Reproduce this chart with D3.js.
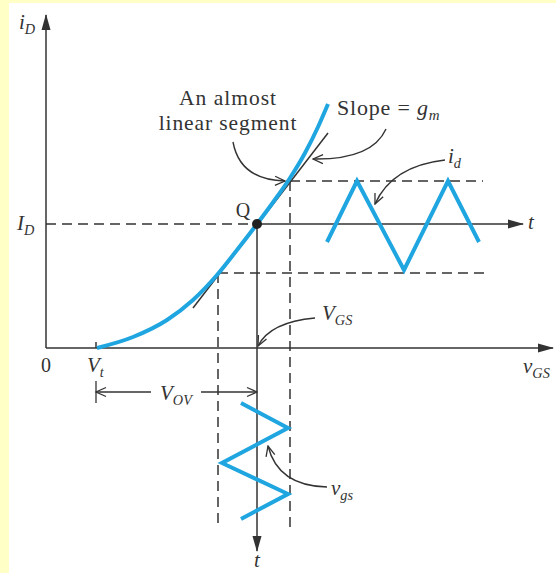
<!DOCTYPE html>
<html>
<head>
<meta charset="utf-8">
<script src="https://cdn.jsdelivr.net/npm/d3@7"></script>
<style>
  body { margin: 0; background: #fff; }
</style>
</head>
<body>
<div id="chart"></div>
<script>
// Transfer curve iD(vGS)
const curveV = [1.02, 1.74, 2.42, 2.94, 3.42, 3.82, 4.22, 4.56, 4.88, 5.18, 5.44, 5.64]
const curveI = [0.00, 0.22, 0.56, 0.96, 1.46, 1.96, 2.48, 2.94, 3.40, 3.90, 4.42, 4.88]

// Tangent at Q (slope = gm)
const tangentV = [2.94, 5.64]
const tangentI = [0.80, 4.30]

// Bias point and signal swing
const Vt = 1.0
const VGS = 4.22
const ID = 2.48
const vgsMin = 3.44, vgsMax = 4.88
const idMin = 1.50, idMax = 3.34

// id(t) drawn along the horizontal t axis
const idWaveT = [5.62, 6.22, 7.16, 8.04, 8.66]
const idWaveI = [2.12, 3.34, 1.56, 3.34, 2.12]

// vgs(t) drawn along the vertical t axis (t runs downward)
const vgsWaveV = [3.90, 4.84, 3.52, 4.84, 3.90]
const vgsWaveT = [-1.10, -1.60, -2.30, -2.92, -3.42]

const w = 556, h = 573
const blue = "#1fa6e0"
const ink = "#333"
const serif = "'Liberation Serif', 'Times New Roman', Times, 'DejaVu Serif', serif"

const x = d3.scaleLinear().domain([0, 10]).range([46, 546])
const y = d3.scaleLinear().domain([0, 6]).range([348, 48])

const svg = d3.select("#chart").append("svg")
    .attr("width", w).attr("height", h)
    .attr("font-family", serif)

// yellow page frame
svg.append("rect").attr("width", w).attr("height", h).attr("fill", "#ffffc6")
svg.append("rect").attr("x", 9).attr("y", 3).attr("width", w - 9).attr("height", h - 3).attr("fill", "#fff")

// Markers
const defs = svg.append("defs")
defs.append("marker").attr("id", "solid")
    .attr("viewBox", "0 -5 16 10").attr("refX", 15).attr("refY", 0)
    .attr("markerWidth", 16).attr("markerHeight", 10)
    .attr("markerUnits", "userSpaceOnUse").attr("orient", "auto")
  .append("path").attr("d", "M0,-4.5L16,0L0,4.5Z").attr("fill", ink)
defs.append("marker").attr("id", "open")
    .attr("viewBox", "-1 -6 12 12").attr("refX", 10).attr("refY", 0)
    .attr("markerWidth", 12).attr("markerHeight", 12)
    .attr("markerUnits", "userSpaceOnUse").attr("orient", "auto")
  .append("path").attr("d", "M0,-4.5L10,0L0,4.5").attr("fill", "none")
    .attr("stroke", ink).attr("stroke-width", 1.3)

const line = d3.line().x(d => x(d[0])).y(d => y(d[1]))

function seg(x1, y1, x2, y2, opts = {}) {
    const p = svg.append("line")
        .attr("x1", x(x1)).attr("y1", y(y1)).attr("x2", x(x2)).attr("y2", y(y2))
        .attr("stroke", ink).attr("stroke-width", opts.width || 1.5)
    if (opts.dash) p.attr("stroke-dasharray", "10,6")
    if (opts.marker) p.attr("marker-end", "url(#" + opts.marker + ")")
    return p
}

// Axes
seg(0, 0, 0, 6.66, {marker: "solid"})
seg(0, 0, 10.14, 0, {marker: "solid"})
// Vt tick
seg(Vt, 0, Vt, 0.12)

// Dashed guides
seg(0, ID, VGS, ID, {dash: true})
seg(vgsMax, idMax, 8.74, idMax, {dash: true})
seg(vgsMin, idMin, 8.84, idMin, {dash: true})
seg(vgsMin, idMin, vgsMin, -3.6, {dash: true})
seg(vgsMax, idMax, vgsMax, -3.64, {dash: true})

// t axes through Q
seg(VGS, ID, 9.54, ID, {marker: "solid"})
seg(VGS, ID, VGS, -4.06, {marker: "solid"})

// Tangent
svg.append("path")
    .attr("d", line(d3.zip(tangentV, tangentI)))
    .attr("fill", "none").attr("stroke", ink).attr("stroke-width", 1.5)

// Transfer curve
const smooth = d3.line().x(d => x(d[0])).y(d => y(d[1])).curve(d3.curveMonotoneX)
svg.append("path")
    .attr("d", smooth(d3.zip(curveV, curveI)))
    .attr("fill", "none").attr("stroke", blue).attr("stroke-width", 4)

// Signal waves
svg.append("path")
    .attr("d", line(d3.zip(idWaveT, idWaveI)))
    .attr("fill", "none").attr("stroke", blue).attr("stroke-width", 4)
svg.append("path")
    .attr("d", line(d3.zip(vgsWaveV, vgsWaveT)))
    .attr("fill", "none").attr("stroke", blue).attr("stroke-width", 4)

// Q point
svg.append("circle").attr("cx", x(VGS)).attr("cy", y(ID)).attr("r", 5).attr("fill", "#222")

// VOV dimension
const yOV = -0.88
seg(Vt, yOV - 0.22, Vt, yOV + 0.22, {width: 1.3})
seg(2.1, yOV, Vt, yOV, {width: 1.3, marker: "open"})
seg(3.1, yOV, VGS, yOV, {width: 1.3, marker: "open"})

// Curved annotation arrows
const arrows = [
    [[233, 142], [240, 180], [285, 181]],
    [[386, 129], [372, 160], [313, 159]],
    [[445, 160], [392, 166], [375, 204]],
    [[315, 318], [270, 322], [258, 346]],
    [[327, 487], [278, 486], [268, 446]]
]
arrows.forEach(a => {
    const p = d3.path()
    p.moveTo(a[0][0], a[0][1])
    p.quadraticCurveTo(a[1][0], a[1][1], a[2][0], a[2][1])
    svg.append("path").attr("d", p.toString())
        .attr("fill", "none").attr("stroke", ink).attr("stroke-width", 1.4)
        .attr("marker-end", "url(#open)")
})

// Labels: parts are [text, italic, subscript]
function label(px, py, parts, size = 19, anchor = "start") {
    const t = svg.append("text").attr("x", px).attr("y", py)
        .attr("font-size", size).attr("text-anchor", anchor)
        .attr("font-family", serif).attr("fill", ink)
    let down = false
    parts.forEach(([s, it, sub]) => {
        const ts = t.append("tspan").text(s)
        if (it) ts.attr("font-style", "italic")
        if (sub && !down) { ts.attr("dy", 5).attr("font-size", size * 0.68); down = true }
        else if (sub) ts.attr("font-size", size * 0.68)
        else if (down) { ts.attr("dy", -5); down = false }
    })
    return t
}

label(19, 29, [["i", true], ["D", true, true]], 21)
label(17, 230, [["I", true], ["D", true, true]], 21)
label(46, 372, [["0"]], 20, "middle")
label(87, 372, [["V", true], ["t", true, true]], 21)
label(160, 400, [["V", true], ["OV", true, true]], 21)
label(322, 320, [["V", true], ["GS", true, true]], 21)
label(523, 373, [["v", true], ["GS", true, true]], 21)
label(331, 495, [["v", true], ["gs", true, true]], 21)
label(448, 163, [["i", true], ["d", true, true]], 21)
label(243, 217, [["Q"]], 20, "middle")
label(528, 229, [["t", true]], 21)
label(257, 567, [["t", true]], 21, "middle")
label(228, 105, [["An almost"]], 21.5, "middle").attr("letter-spacing", 1)
label(228, 130, [["linear segment"]], 21.5, "middle").attr("letter-spacing", 0.9)
label(337, 115, [["Slope = "], ["g", true], ["m", true, true]], 22).attr("letter-spacing", 0.8)
</script>
</body>
</html>
